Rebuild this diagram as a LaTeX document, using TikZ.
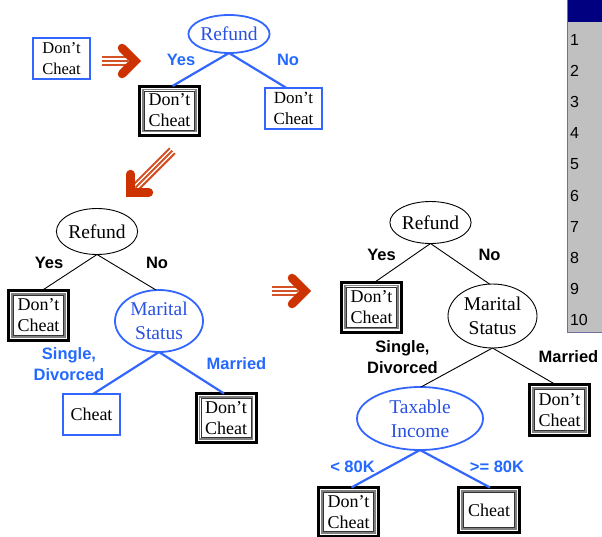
\documentclass[tikz,border=0pt]{standalone}
\usepackage{fontspec}
\setmainfont{Liberation Serif}
\newfontfamily\labfont{Liberation Sans}
\usetikzlibrary{shapes.geometric}

\definecolor{nodeblue}{RGB}{51,102,255}
\definecolor{txtblue}{RGB}{40,80,225}
\definecolor{labblue}{RGB}{35,105,255}
\definecolor{arrowred}{RGB}{204,51,0}
\definecolor{panelnavy}{RGB}{0,0,128}
\definecolor{panelgray}{RGB}{192,192,192}
\definecolor{panelline}{RGB}{110,110,160}

\tikzset{
  every node/.style={inner sep=0pt, outer sep=0pt},
  % plain leaf of a tree still being grown
  leafbox/.style={rectangle, draw=nodeblue, line width=2pt,
    minimum width=57pt, minimum height=41pt, align=center,
    font=\fontsize{17}{21}\selectfont},
  % final leaf: heavy frame with an inner grey rule
  finalbox/.style={rectangle, draw=black, line width=3pt,
    minimum width=60pt, minimum height=49pt, align=center,
    font=\fontsize{18}{21}\selectfont,
    path picture={
      \draw[gray, line width=1.6pt]
        ([shift={(3.6pt,-3.6pt)}]path picture bounding box.north west) rectangle
        ([shift={(-3.6pt,3.6pt)}]path picture bounding box.south east);
      \draw[black!80, line width=0.6pt]
        ([shift={(4.9pt,-4.9pt)}]path picture bounding box.north west) rectangle
        ([shift={(-4.9pt,4.9pt)}]path picture bounding box.south east);
    }},
  testblue/.style={ellipse, draw=nodeblue, line width=1.8pt, text=txtblue,
    align=center, font=\fontsize{19.5}{24}\selectfont},
  testblack/.style={ellipse, draw=black, line width=0.9pt,
    align=center, font=\fontsize{19.5}{24}\selectfont},
  bluelink/.style={draw=nodeblue, line width=2.2pt},
  blacklink/.style={draw=black, line width=0.9pt},
  bluelab/.style={text=labblue, align=center,
    font=\labfont\bfseries\fontsize{16.5}{20.5}\selectfont},
  blacklab/.style={text=black, align=center,
    font=\labfont\bfseries\fontsize{16.5}{21}\selectfont},
  numlab/.style={anchor=west, font=\labfont\fontsize{16}{18}\selectfont},
  % big red "next step" arrow, tip at the pic origin, pointing along +x
  tail len/.store in=\steptail, tail len=38,
  stepper/.pic={
    \foreach \o in {-3.6,0,3.6}
      \draw[arrowred!85, line width=2pt] (-\steptail pt,\o pt) -- (-12pt,\o pt);
    \draw[arrowred, line width=8.5pt, line cap=round, line join=miter]
      (-18pt,13pt) -- (-5pt,0pt) -- (-18pt,-13pt);
  },
}

\begin{document}
\begin{tikzpicture}[x=1pt, y=-1pt]
\useasboundingbox (0,0) rectangle (602,536);

% ---------------- step 1: single leaf, then split on Refund
\node[leafbox, font=\fontsize{16.5}{21}\selectfont] (start) at (61.5,58.5) {Don’t\\Cheat};
\pic at (140,61) {stepper};

\node[testblue, minimum width=72pt, minimum height=38pt] (r1) at (229,34) {Refund};
\node[finalbox] (d1) at (169.5,110.5) {Don’t\\Cheat};
\node[leafbox] (d2) at (293.5,108.5) {Don’t\\Cheat};
\draw[bluelink] (r1.south) -- ([xshift=3pt]d1.north);
\draw[bluelink] (r1.south) -- ([xshift=-7pt]d2.north);
\node[bluelab] (y1) at (181,60) {Yes};
\node[bluelab] (n1) at (288,60) {No};

\pic[tail len=64, rotate=225] at (127,196) {stepper};

% ---------------- step 2: split the No branch on Marital Status
\node[testblack, minimum width=70pt, minimum height=46pt] (r2) at (97,231.5) {Refund};
\node[finalbox, minimum height=50pt] (d3) at (38.5,315.5) {Don’t\\Cheat};
\node[testblue, minimum width=88pt, minimum height=62pt] (m2) at (159,321) {Marital\\Status};
\draw[blacklink] (r2.south) -- ([xshift=3.5pt]d3.north);
\draw[blacklink] (r2.south) -- ([xshift=-3pt]m2.north);
\node[blacklab] (y2) at (49,263) {Yes};
\node[blacklab] (n2) at (157,263) {No};

\node[leafbox, font=\fontsize{18}{21}\selectfont] (c2) at (91.5,414.5) {Cheat};
\node[finalbox] (d4) at (226,418) {Don’t\\Cheat};
\draw[bluelink] (m2.south) -- ([xshift=1.5pt]c2.north);
\draw[bluelink] (m2.south) -- ([xshift=-2pt]d4.north);
\node[bluelab] (s2) at (69,364) {Single,\\Divorced};
\node[bluelab] (mm2) at (236.5,364) {Married};

\pic at (310,291) {stepper};

% ---------------- step 3: split Single/Divorced on Taxable Income
\node[testblack, minimum width=71pt, minimum height=42pt] (r3) at (430.5,222.5) {Refund};
\node[finalbox, minimum height=50pt] (d5) at (371.5,307) {Don’t\\Cheat};
\node[testblack, minimum width=89pt, minimum height=64pt] (m3) at (492.5,316) {Marital\\Status};
\draw[blacklink] (r3.south) -- ([xshift=3.5pt]d5.north);
\draw[blacklink] (r3.south) -- ([xshift=-3pt]m3.north);
\node[blacklab] (y3) at (381.5,255) {Yes};
\node[blacklab] (n3) at (489.5,255) {No};

\node[testblue, minimum width=126pt, minimum height=63pt] (t3) at (420,418.5) {Taxable\\Income};
\node[finalbox, minimum height=51pt] (d6) at (559.5,410) {Don’t\\Cheat};
\draw[blacklink] (m3.south) -- ([xshift=1pt]t3.north);
\draw[blacklink] (m3.south) -- ([xshift=-4pt]d6.north);
\node[blacklab] (s3) at (402.5,357.5) {Single,\\Divorced};
\node[blacklab] (mm3) at (568.5,357) {Married};

\node[finalbox, minimum height=49pt] (d7) at (348.5,512) {Don’t\\Cheat};
\node[finalbox, minimum width=61pt, minimum height=45pt] (c7) at (489,510) {Cheat};
\draw[bluelink] (t3.south) -- ([xshift=3pt]d7.north);
\draw[bluelink] (t3.south) -- ([xshift=1pt]c7.north);
\node[bluelab] (lo) at (352.5,466.5) {< 80K};
\node[bluelab] (hi) at (497,466.5) {>= 80K};

% ---------------- record index column
\fill[panelgray] (567,22) rectangle (602,332);
\fill[panelnavy] (567,0) rectangle (602,22);
\draw[panelline, line width=0.8pt] (567.4,0) -- (567.4,332.4) -- (602,332.4);
\foreach \k in {1,...,10}
  \node[numlab] (row\k) at (570,{40+(\k-1)*31.1}) {\k};
\end{tikzpicture}
\end{document}
